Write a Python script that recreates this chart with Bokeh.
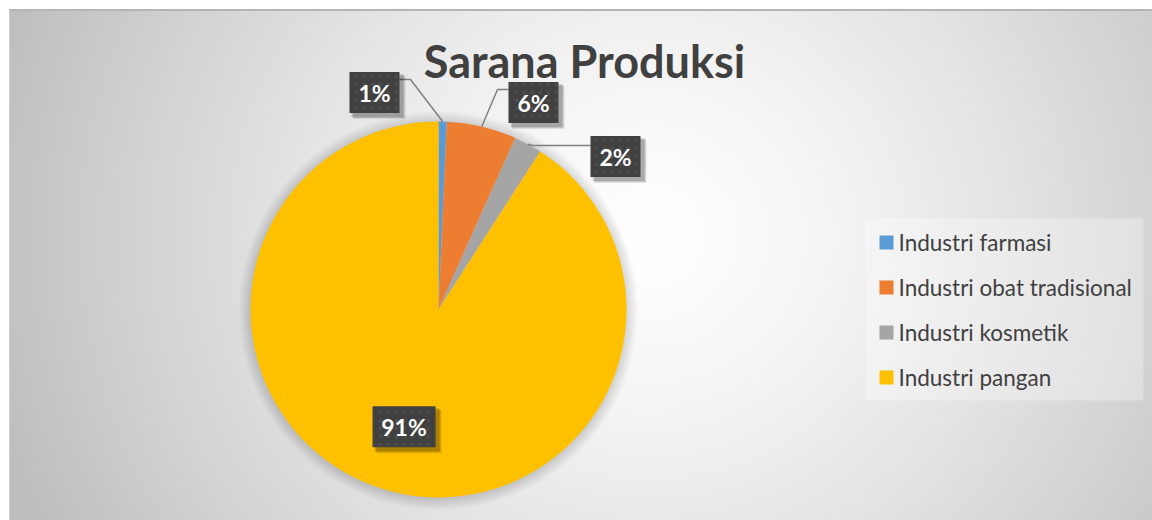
import numpy as np
from bokeh.plotting import figure
from bokeh.models import Range1d, ColumnDataSource
from bokeh.core.properties import value
from bokeh.embed import file_html
from bokeh.resources import INLINE

# ---------------- data ----------------
categories = ["Industri farmasi", "Industri obat tradisional", "Industri kosmetik", "Industri pangan"]
shares = [0.7, 6.0, 2.4, 90.9]
colors = ["#5B9BD5", "#ED7D31", "#A5A5A5", "#FFC000"]
title_text = "Sarana Produksi"

# ---------------- layout (page pixel coords) ----------------
W, H = 1152, 520
FONT = "Lato"
CX, CY, R = 438, 309, 188          # pie centre / radius (page px)
# outside label boxes: centre, attach point on box, elbow point (page px); None => inside label
label_layout = [
    dict(box=(374, 92), attach=(399, 79), elbow=(410, 79)),
    dict(box=(533, 102), attach=(508, 89), elbow=(497, 89)),
    dict(box=(615, 156), attach=(590, 145), elbow=(532, 145)),
    None,
]
LEG_X, LEG_Y0, LEG_DY = 879, 242, 45


def Y(iy):
    return H - iy


p = figure(width=W, height=H, x_range=Range1d(0, W), y_range=Range1d(0, H),
           output_backend="svg", toolbar_location=None, min_border=0)
p.axis.visible = False
p.grid.visible = False
p.outline_line_color = None
p.border_fill_color = "white"
p.background_fill_color = "white"

# ---------------- background gradient ----------------
x0, x1, ytop, ybot = 9, W, 9, H
xs = np.arange(x0, x1) + 0.5
ys_img = np.arange(ybot, ytop, -1) - 0.5   # row 0 = bottom
XX, YY = np.meshgrid(xs, ys_img)
d = np.sqrt((XX - 650) ** 2 + ((YY - 235) * 1.05) ** 2)
t = np.clip(d / 690.0, 0, 1)
v = (255 - 66 * t ** 1.35).astype(np.uint8)
img = np.empty(v.shape, dtype=np.uint32)
view = img.view(dtype=np.uint8).reshape(v.shape + (4,))
view[..., 0] = v
view[..., 1] = v
view[..., 2] = v
view[..., 3] = 255
p.image_rgba(image=[img], x=x0, y=Y(ybot), dw=x1 - x0, dh=ybot - ytop)
# frame edge lines
p.segment(x0=[x0], y0=[Y(9.5)], x1=[x1], y1=[Y(9.5)], line_color="#b5b5b5", line_width=2)
p.segment(x0=[9.5], y0=[Y(9)], x1=[9.5], y1=[Y(ybot)], line_color="#c0c0c0", line_width=1)

# ---------------- pie soft shadow ----------------
for k in range(9):
    p.circle(x=[CX], y=[Y(CY + 1)], radius=R + 1 + k * 1.3, radius_units="screen",
             fill_color="black", fill_alpha=0.016, line_color=None)

# ---------------- wedges ----------------
tot = float(sum(shares))
fr = np.array(shares) / tot
cum_end = np.cumsum(fr)
cum_start = cum_end - fr
start_ang = np.pi / 2 - cum_start * 2 * np.pi
end_ang = np.pi / 2 - cum_end * 2 * np.pi
src = ColumnDataSource(dict(start=start_ang, end=end_ang, color=colors))
p.wedge(x=CX, y=Y(CY), radius=R, radius_units="screen", start_angle="start", end_angle="end",
        direction="clock", fill_color="color", line_color=None, source=src)

mid = (cum_start + cum_end) / 2 * 2 * np.pi   # clockwise from top
labels = ["%d%%" % round(s / tot * 100) for s in shares]

# ---------------- data labels ----------------
for i, lay in enumerate(label_layout):
    if lay is None:
        bx = CX + 0.65 * R * np.sin(mid[i])
        by = CY - 0.65 * R * np.cos(mid[i])
    else:
        bx, by = lay["box"]
        ex = CX + R * np.sin(mid[i])
        ey = CY - R * np.cos(mid[i])
        ax, ay = lay["attach"]
        kx, ky = lay["elbow"]
        p.line(x=[ax, kx, ex], y=[Y(ay), Y(ky), Y(ey)], line_color="#7f7f7f", line_width=1.5)
    bw = 50 if len(labels[i]) <= 2 else 63
    bh = 41
    # shadow
    for off, al in ((5, 0.10), (4, 0.12), (3, 0.14)):
        p.rect(x=bx + off, y=Y(by + off), width=bw + 2, height=bh + 2, width_units="screen",
               height_units="screen", fill_color="black", fill_alpha=al, line_color=None)
    p.rect(x=bx, y=Y(by), width=bw, height=bh, width_units="screen", height_units="screen",
           fill_color="#404040", line_color=None, hatch_pattern="dot", hatch_color="#5c5c5c",
           hatch_scale=8, hatch_weight=1.5, hatch_alpha=0.45)
    p.text(x=[bx], y=[Y(by)], text=[labels[i]], text_font=value(FONT), text_font_style="bold",
           text_font_size="23px", text_color="white", text_align="center", text_baseline="middle")

# ---------------- title ----------------
p.text(x=[584], y=[Y(60)], text=[title_text], text_font=value(FONT), text_font_style="bold",
       text_font_size="45px", text_color="#404040", text_align="center", text_baseline="middle")

# ---------------- legend ----------------
p.quad(left=[865], right=[1143], top=[Y(218)], bottom=[Y(400)], fill_color="white",
       fill_alpha=0.3, line_color=None)
for i, c in enumerate(categories):
    yy = LEG_Y0 + i * LEG_DY
    p.rect(x=[LEG_X + 7], y=[Y(yy)], width=14, height=14, width_units="screen",
           height_units="screen", fill_color=colors[i], line_color=None)
    p.text(x=[LEG_X + 19], y=[Y(yy)], text=[c], text_font=value(FONT), text_font_size="22.5px",
           text_color="#404040", text_align="left", text_baseline="middle")

open("out.html", "w").write(file_html(p, INLINE))
